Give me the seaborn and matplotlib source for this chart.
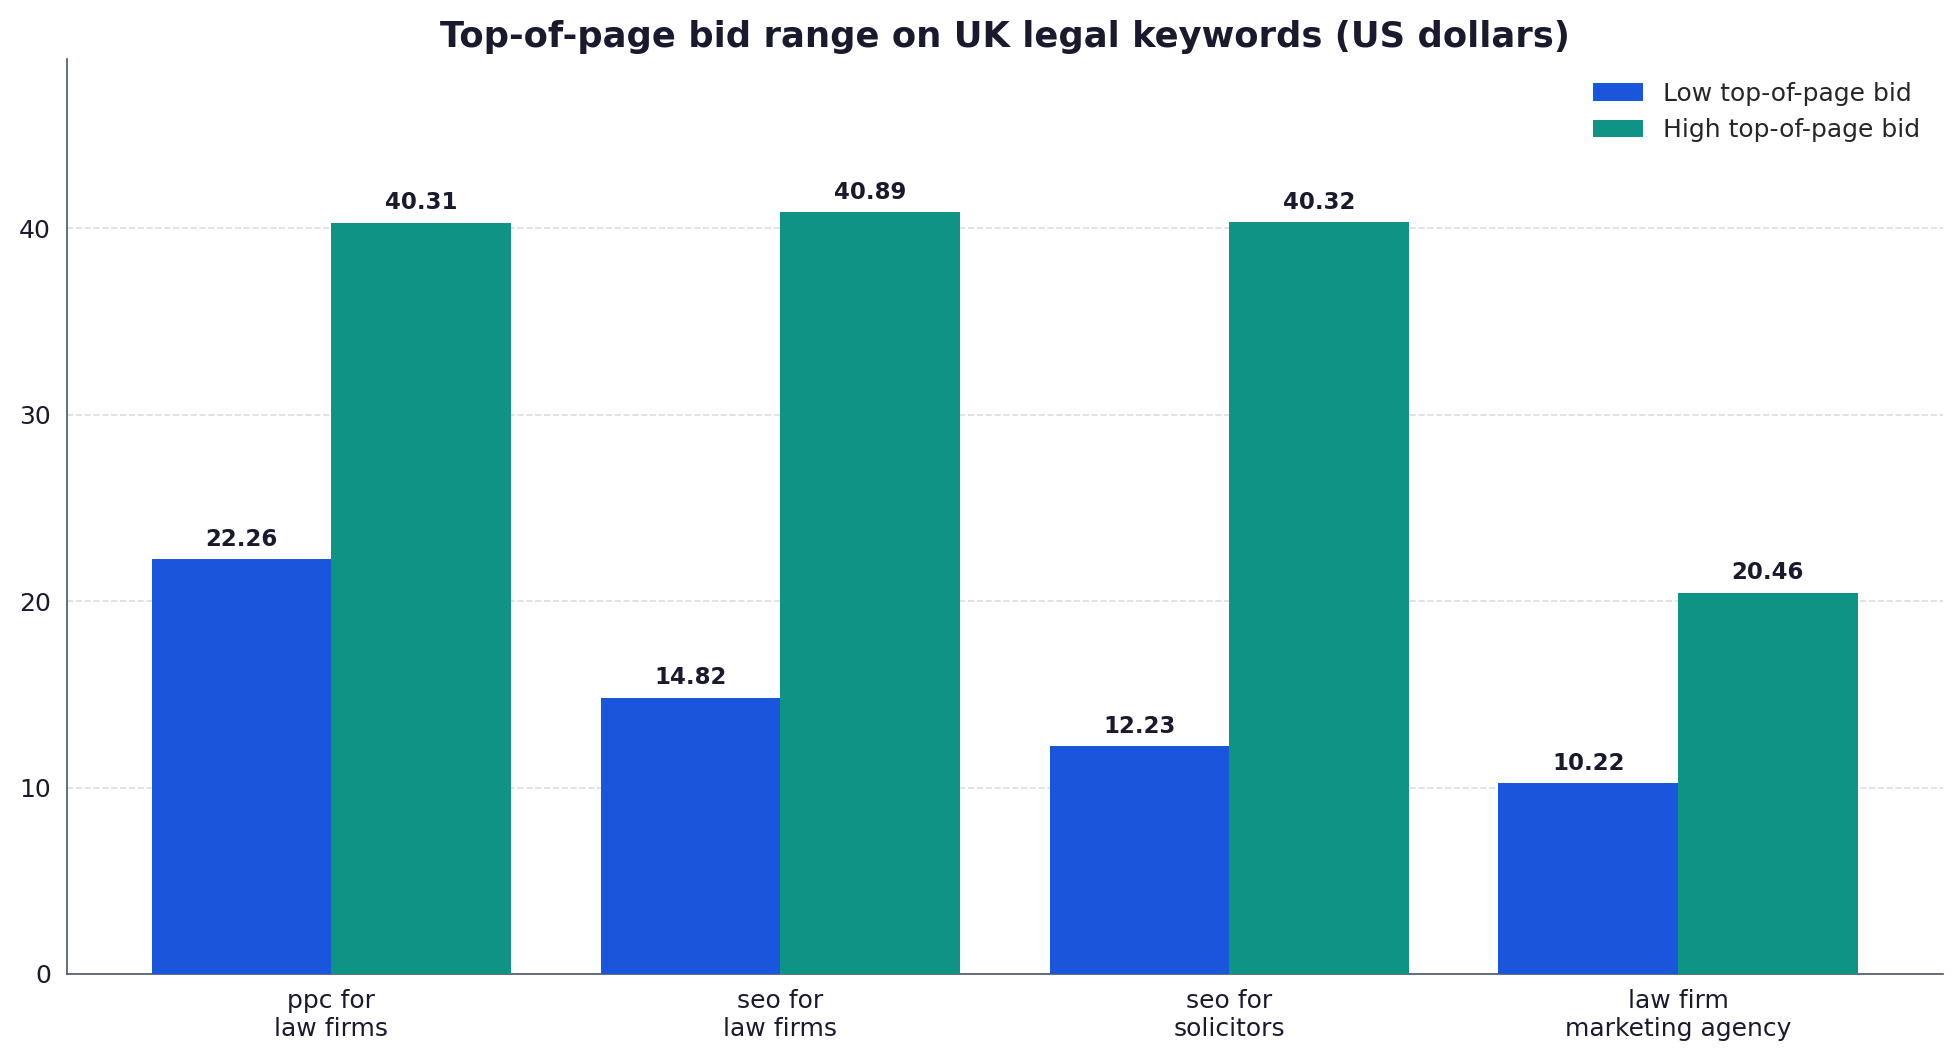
import pandas as pd
import matplotlib.pyplot as plt
import seaborn as sns

keywords = ['ppc for\nlaw firms', 'seo for\nlaw firms', 'seo for\nsolicitors', 'law firm\nmarketing agency']
low_bid = [22.26, 14.82, 12.23, 10.22]
high_bid = [40.31, 40.89, 40.32, 20.46]
series = ['Low top-of-page bid', 'High top-of-page bid']
colors = ['#1a56db', '#0e9384']

df = pd.DataFrame({
    'keyword': keywords * 2,
    'bid': low_bid + high_bid,
    'series': [series[0]] * 4 + [series[1]] * 4,
})

sns.set_style('white')
plt.rcParams['font.family'] = ['DejaVu Sans']

fig, ax = plt.subplots(figsize=(13.07, 7.08), dpi=150)
sns.barplot(data=df, x='keyword', y='bid', hue='series', palette=colors,
            width=0.8, saturation=1, linewidth=0, ax=ax, zorder=3)

for c in ax.containers:
    ax.bar_label(c, fmt='%.2f', padding=4, fontsize=11, fontweight='bold', color='#1a1a2e')

ax.set_xlim(-0.59, 3.59)
ax.set_ylim(0, max(high_bid) * 1.2)
ax.set_title('Top-of-page bid range on UK legal keywords (US dollars)',
             fontsize=17, fontweight='bold', color='#1a1a2e')
ax.set_xlabel('')
ax.set_ylabel('')
ax.tick_params(axis='both', labelsize=12, colors='#1a1a2e', length=4)
ax.tick_params(axis='x', color='#4a5568')
ax.tick_params(axis='y', color='#4a5568')
ax.yaxis.grid(True, linestyle='--', color='#dddddd', linewidth=0.8, zorder=0)
ax.set_axisbelow(True)
sns.despine(ax=ax)
for s in ['left', 'bottom']:
    ax.spines[s].set_color('#4a5568')

ax.legend(frameon=False, fontsize=12, loc='upper right')

fig.subplots_adjust(left=0.034, right=0.991, top=0.944, bottom=0.083)
fig.savefig('out.png', dpi=150)
